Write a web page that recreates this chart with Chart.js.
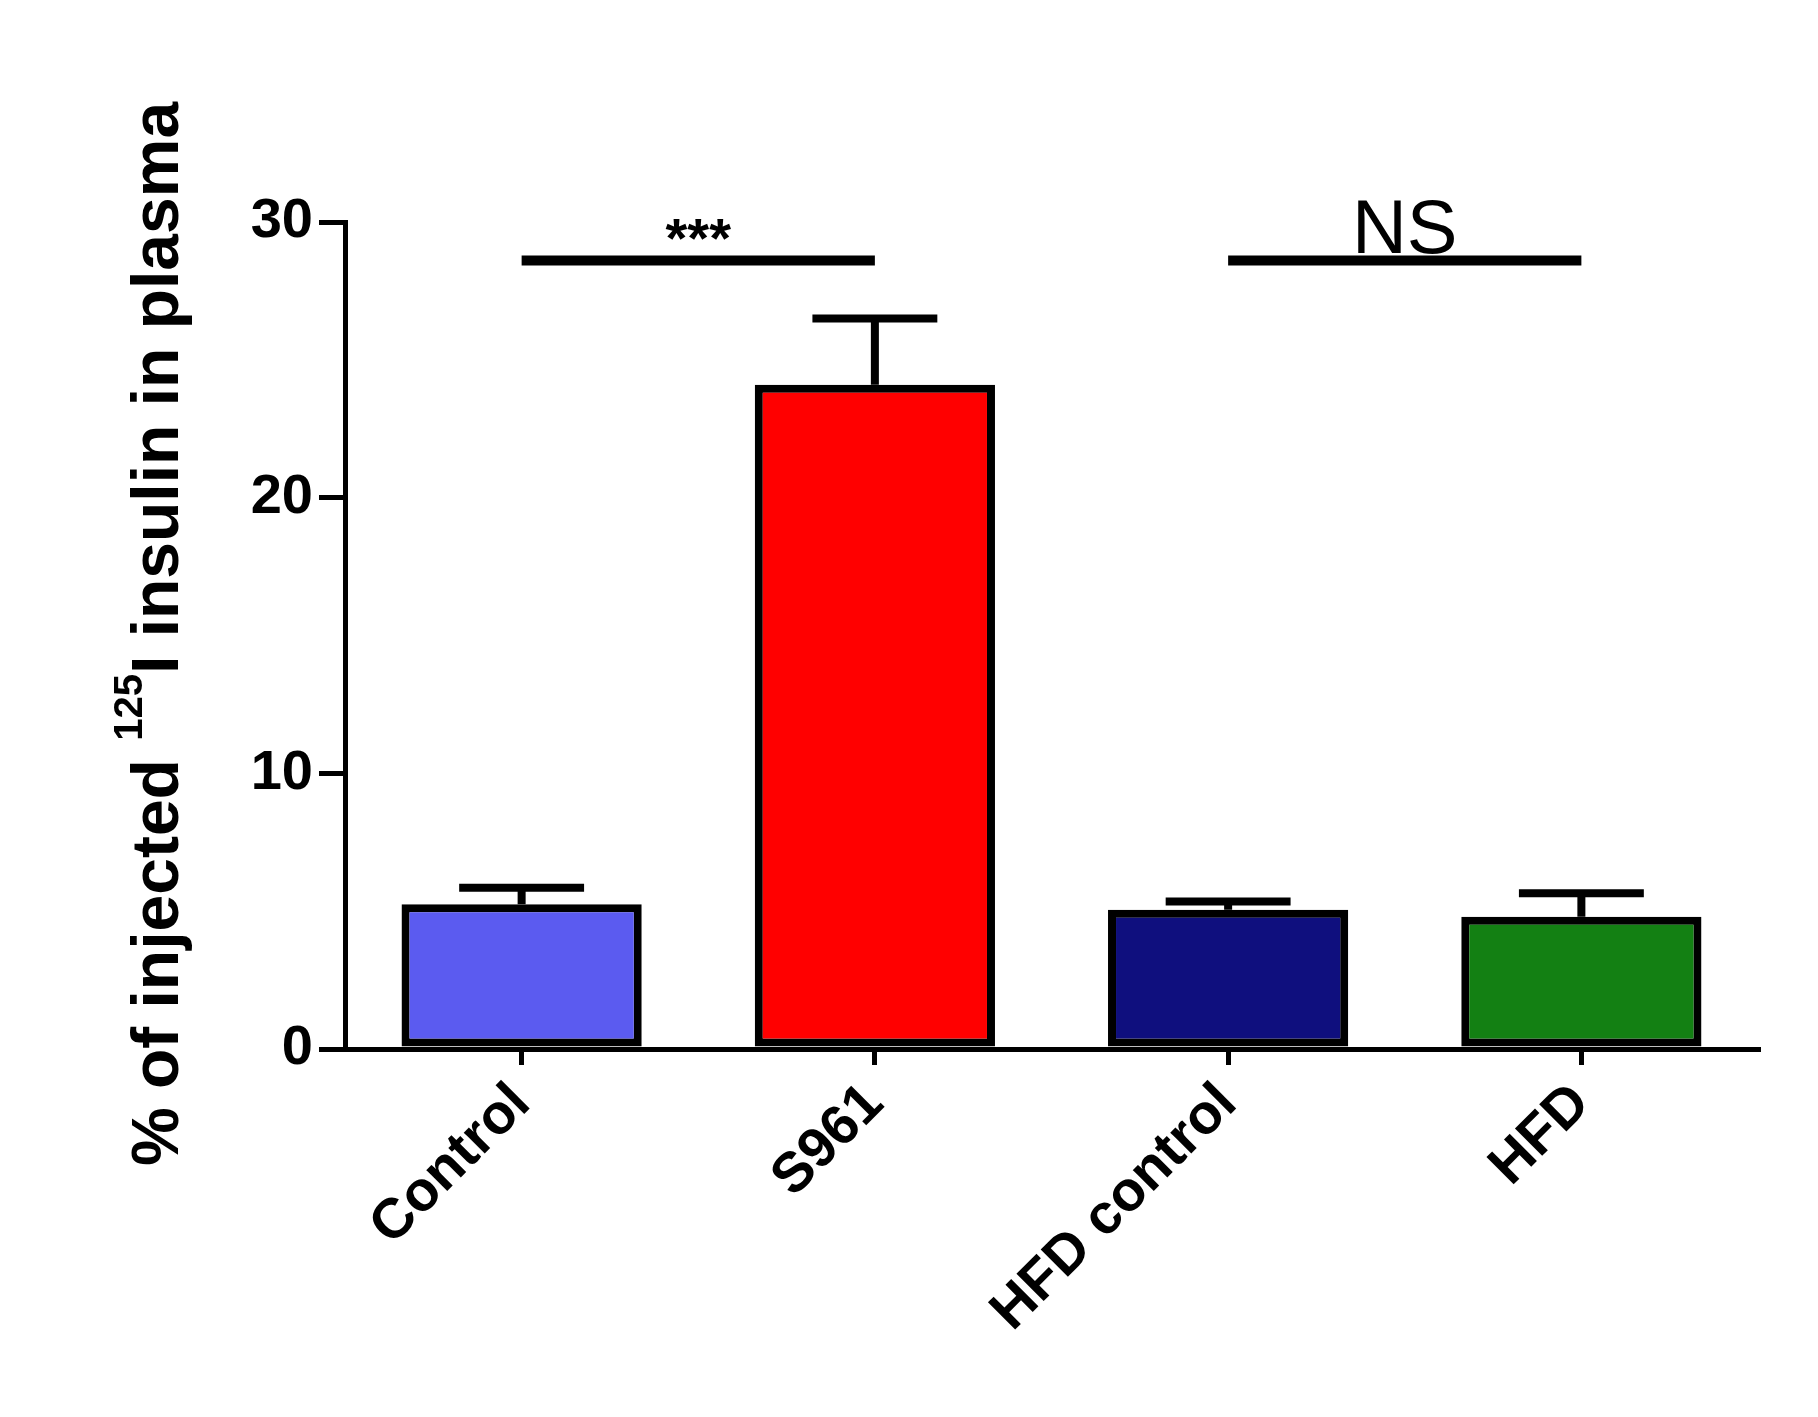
<!DOCTYPE html>
<html>
<head>
<meta charset="utf-8">
<script src="https://cdn.jsdelivr.net/npm/chart.js@4/dist/chart.umd.min.js"></script>
<style>
  html, body { margin: 0; padding: 0; background: #fff; }
  #wrap { width: 1818px; height: 1417px; }
</style>
</head>
<body>
<div id="wrap"><canvas id="insulinChart"></canvas></div>
<script>
// data
const categories = ["Control", "S961", "HFD control", "HFD"];
const means = [5.25, 24.1, 5.05, 4.8];
const errors = [0.6, 2.4, 0.3, 0.85];
const barColors = ["#5b5bf0", "#ff0000", "#0f0f7e", "#138013"];
const yTicks = [0, 10, 20, 30];
// significance brackets: [fromIndex, toIndex, yValue, label]
const brackets = [[0, 1, 28.6, "***"], [2, 3, 28.6, "NS"]];

const font = "Arial, 'Liberation Sans', sans-serif";

// draws error caps, significance lines and the y title
const extras = {
  id: "extras",
  afterDatasetsDraw(chart) {
    const { ctx, scales: { x, y } } = chart;
    const meta = chart.getDatasetMeta(0);
    ctx.save();
    ctx.strokeStyle = "#000";
    ctx.lineWidth = 8;
    meta.data.forEach((bar, i) => {
      const top = y.getPixelForValue(means[i] + errors[i]);
      const base = y.getPixelForValue(means[i]);
      const half = bar.width * 0.26;
      ctx.beginPath();
      ctx.moveTo(bar.x, base);
      ctx.lineTo(bar.x, top);
      ctx.moveTo(bar.x - half, top);
      ctx.lineTo(bar.x + half, top);
      ctx.stroke();
    });
    ctx.lineWidth = 10;
    ctx.fillStyle = "#000";
    ctx.textAlign = "center";
    brackets.forEach(([a, b, v, label]) => {
      const py = y.getPixelForValue(v);
      const x1 = x.getPixelForValue(a), x2 = x.getPixelForValue(b);
      ctx.beginPath();
      ctx.moveTo(x1, py);
      ctx.lineTo(x2, py);
      ctx.stroke();
      ctx.textBaseline = "alphabetic";
      if (label === "NS") {
        ctx.font = "76px " + font;
        ctx.fillText(label, (x1 + x2) / 2, py - 8);
      } else {
        ctx.font = "bold 56px " + font;
        ctx.fillText(label, (x1 + x2) / 2, py - 4);
      }
    });
    // rotated y title with superscript
    ctx.translate(178, 634);
    ctx.rotate(-Math.PI / 2);
    ctx.textAlign = "left";
    ctx.textBaseline = "alphabetic";
    const p1 = "% of injected ", sup = "125", p2 = "I insulin in plasma";
    ctx.font = "bold 66px " + font;
    const w1 = ctx.measureText(p1).width;
    const w3 = ctx.measureText(p2).width;
    ctx.font = "bold 40px " + font;
    const w2 = ctx.measureText(sup).width;
    let sx = -(w1 + w2 + w3) / 2;
    ctx.font = "bold 66px " + font;
    ctx.fillText(p1, sx, 0);
    ctx.font = "bold 40px " + font;
    ctx.fillText(sup, sx + w1, -36);
    ctx.font = "bold 66px " + font;
    ctx.fillText(p2, sx + w1 + w2, 0);
    ctx.restore();
  }
};

new Chart(document.getElementById("insulinChart"), {
  type: "bar",
  data: {
    labels: categories,
    datasets: [{
      data: means,
      backgroundColor: barColors,
      borderColor: "#000",
      borderWidth: 8,
      borderSkipped: false,
      categoryPercentage: 0.68,
      barPercentage: 1.0
    }]
  },
  options: {
    responsive: true,
    maintainAspectRatio: false,
    animation: false,
    layout: { padding: { top: 222, right: 60, left: 0, bottom: 0 } },
    plugins: { legend: { display: false }, tooltip: { enabled: false } },
    scales: {
      x: {
        offset: true,
        afterFit: (s) => { s.height = 368; },
        grid: { offset: false, drawOnChartArea: false, drawTicks: true, tickLength: 16, color: "#000", lineWidth: 5 },
        border: { color: "#000", width: 5 },
        ticks: {
          color: "#000",
          font: { family: font, size: 56, weight: "bold" },
          maxRotation: 45, minRotation: 45, padding: 6
        }
      },
      y: {
        min: 0, max: 30,
        afterFit: (s) => { s.width = 345; },
        afterBuildTicks: (s) => { s.ticks = yTicks.map(v => ({ value: v })); },
        grid: { drawOnChartArea: false, drawTicks: true, tickLength: 26, color: "#000", lineWidth: 5 },
        border: { color: "#000", width: 5 },
        ticks: {
          color: "#000",
          font: { family: font, size: 56, weight: "bold" },
          padding: 6
        }
      }
    }
  },
  plugins: [extras]
});
</script>
</body>
</html>
